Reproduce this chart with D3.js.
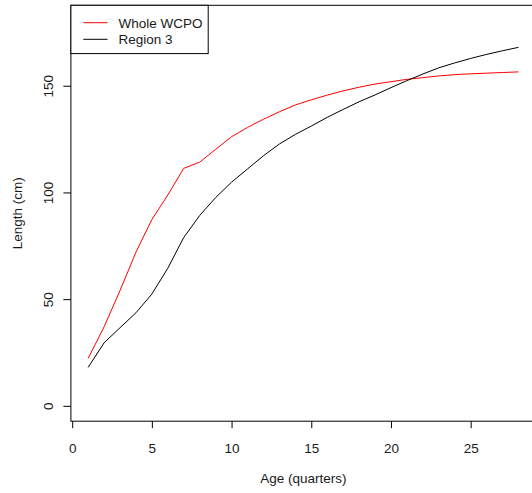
<!DOCTYPE html>
<html>
<head>
<meta charset="utf-8">
<script src="https://cdn.jsdelivr.net/npm/d3@7"></script>
<style>
  html, body { margin: 0; padding: 0; background: #fff; }
  svg { display: block; font-family: Arial, "Liberation Sans", sans-serif; }
</style>
</head>
<body>
<svg id="chart" width="532" height="493"></svg>
<script>
// Age in quarters
const ages = [1, 2, 3, 4, 5, 6, 7, 8, 9, 10, 11, 12, 13, 14, 15, 16, 17, 18, 19, 20, 21, 22, 23, 24, 25, 26, 27, 28];
// Mean length at age (cm)
const wholeWCPO = [22.2, 37.0, 54.0, 72.0, 87.3, 98.8, 111.3, 114.2, 120.2, 126.1, 130.5, 134.3, 137.8, 141.0, 143.4, 145.6, 147.6, 149.3, 150.8, 151.9, 153.0, 153.8, 154.6, 155.2, 155.6, 155.9, 156.2, 156.5];
const region3 = [18.0, 29.5, 36.6, 43.6, 52.4, 64.5, 78.9, 89.2, 97.6, 104.8, 111.0, 117.2, 122.7, 127.2, 131.1, 135.2, 138.9, 142.5, 145.7, 149.1, 152.4, 155.5, 158.4, 160.7, 162.8, 164.7, 166.4, 168.0];
const seriesNames = ["Whole WCPO", "Region 3"];
const seriesColors = ["#ff0000", "#000000"];
const xTicks = [0, 5, 10, 15, 20, 25];
const yTicks = [0, 50, 100, 150];

const svg = d3.select("#chart");
const plot = { left: 70.9, right: 535.7, top: 5.3, bottom: 421.2 };

const x = d3.scaleLinear().domain([-0.08, 29.08]).range([plot.left, plot.right]);
const y = d3.scaleLinear().domain([-7.2, 187.7]).range([plot.bottom, plot.top]);

const fontSize = 13.5;
const textColor = "#1a1a1a";

// Series lines
const series = [wholeWCPO, region3];
const line = d3.line().x((d, i) => x(ages[i])).y(d => y(d));
series.forEach((vals, k) => {
  svg.append("path")
    .datum(vals)
    .attr("d", line)
    .attr("fill", "none")
    .attr("stroke", seriesColors[k])
    .attr("stroke-width", 1);
});

// Plot box
svg.append("rect")
  .attr("x", plot.left).attr("y", plot.top)
  .attr("width", plot.right - plot.left)
  .attr("height", plot.bottom - plot.top)
  .attr("fill", "none").attr("stroke", "#000").attr("stroke-width", 1);

// X axis
const gx = svg.append("g")
  .attr("transform", `translate(0,${plot.bottom})`)
  .call(d3.axisBottom(x).tickValues(xTicks).tickSize(7).tickSizeOuter(0).tickPadding(15).tickFormat(d3.format("d")));
gx.select(".domain").remove();
gx.selectAll("text").attr("font-size", fontSize).attr("font-family", null).attr("fill", textColor);
gx.selectAll("line").attr("stroke", "#000");

// Y axis with rotated labels
const gy = svg.append("g")
  .attr("transform", `translate(${plot.left},0)`)
  .call(d3.axisLeft(y).tickValues(yTicks).tickSize(7.5).tickSizeOuter(0).tickFormat(d3.format("d")));
gy.select(".domain").remove();
gy.selectAll("line").attr("stroke", "#000");
gy.selectAll("text")
  .attr("x", null).attr("dy", null)
  .attr("text-anchor", "middle")
  .attr("transform", "translate(-17.6,0) rotate(-90)")
  .attr("font-size", fontSize).attr("font-family", null).attr("fill", textColor);

// Axis titles
svg.append("text")
  .attr("x", (plot.left + plot.right) / 2).attr("y", 483)
  .attr("text-anchor", "middle").attr("font-size", fontSize).attr("fill", textColor)
  .text("Age (quarters)");
svg.append("text")
  .attr("transform", `translate(22.3,${(plot.top + plot.bottom) / 2}) rotate(-90)`)
  .attr("text-anchor", "middle").attr("font-size", fontSize).attr("fill", textColor)
  .text("Length (cm)");

// Legend
const legend = svg.append("g");
legend.append("rect")
  .attr("x", plot.left).attr("y", plot.top)
  .attr("width", 137.3).attr("height", 48.3)
  .attr("fill", "#fff").attr("stroke", "#000").attr("stroke-width", 1);
const legendRows = [22.7, 39.3];
const legendBaselines = [28.3, 43.6];
seriesNames.forEach((name, k) => {
  legend.append("line")
    .attr("x1", 83.3).attr("x2", 107.5)
    .attr("y1", legendRows[k]).attr("y2", legendRows[k])
    .attr("stroke", seriesColors[k]).attr("stroke-width", 1);
  legend.append("text")
    .attr("x", 118.5).attr("y", legendBaselines[k])
    .attr("font-size", fontSize).attr("fill", textColor)
    .text(name);
});
</script>
</body>
</html>
